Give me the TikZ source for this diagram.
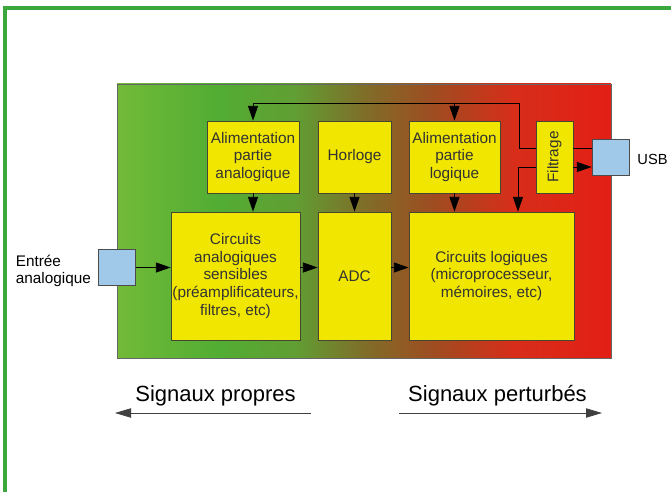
\documentclass[tikz,border=0pt]{standalone}
\usepackage{fontspec}
\usepackage{graphicx}
\setmainfont{Liberation Sans}
\usetikzlibrary{arrows.meta}
\definecolor{boxyellow}{RGB}{240,230,0}
\definecolor{boxline}{RGB}{70,70,50}
\definecolor{portblue}{RGB}{160,200,232}
\definecolor{framegreen}{RGB}{60,168,60}
\pgfdeclarehorizontalshading{greenred}{100bp}{rgb(0bp)=(0.45,0.73,0.22); rgb(25bp)=(0.45,0.73,0.22); rgb(35bp)=(0.32,0.68,0.20); rgb(43bp)=(0.38,0.62,0.20); rgb(50bp)=(0.50,0.43,0.16); rgb(57bp)=(0.62,0.30,0.13); rgb(65bp)=(0.84,0.18,0.10); rgb(75bp)=(0.89,0.12,0.08); rgb(100bp)=(0.89,0.12,0.08)}
\tikzset{
  bloc/.style={draw=boxline, fill=boxyellow, text=black!80, align=center, inner sep=1pt, font=\fontsize{11.5}{13.3}\selectfont},
  port/.style={draw=black!70, fill=portblue, minimum width=27.75pt, minimum height=27pt},
  fleche/.style={-{Triangle[length=11pt,width=7.5pt]}},
  legende/.style={font=\fontsize{16.5}{18}\selectfont},
}
\begin{document}
\begin{tikzpicture}[x=0.75pt, y=-0.75pt, line width=0.6pt]
  \useasboundingbox (0,0) rectangle (671,492);
  \draw[framegreen, line width=2.8pt] (5,492) -- (5,8) -- (671,8);
  \shade[shading=greenred, draw=black!60] (117,84) rectangle (611,358);
  % blocs du haut
  \node[bloc, minimum width=69pt, minimum height=54pt] (alimA) at (253,157) {Alimentation\\partie\\analogique};
  \node[bloc, minimum width=54.75pt, minimum height=54pt] (horloge) at (354.5,157) {Horloge};
  \node[bloc, minimum width=68.25pt, minimum height=54pt] (alimL) at (454.5,157) {Alimentation\\partie\\logique};
  \node[bloc, minimum width=27.75pt, minimum height=54pt] (filtre) at (554.5,157) {\rotatebox{90}{Filtrage}};
  % blocs du bas
  \node[bloc, minimum width=96.75pt, minimum height=96pt] (circA) at (235.5,276) {Circuits\\analogiques\\sensibles\\(préamplificateurs,\\filtres, etc)};
  \node[bloc, minimum width=54.75pt, minimum height=96pt] (adc) at (354.5,276) {ADC};
  \node[bloc, minimum width=123.75pt, minimum height=96pt] (circL) at (491.5,276) {Circuits logiques\\(microprocesseur,\\mémoires, etc)};
  % connecteurs
  \node[port] (entree) at (117,267.5) {};
  \node[port] (usb) at (610.5,157) {};
  \node[anchor=west, align=left, font=\fontsize{11.5}{13.3}\selectfont] (entreeTxt) at (11,271) {Entrée\\analogique};
  \node[font=\fontsize{11}{13}\selectfont] (usbTxt) at (652.5,159) {USB};
  % liaisons
  \coordinate (hautG) at (253,103);
  \coordinate (hautD) at (519,103);
  \coordinate (filtH) at (519,148);
  \coordinate (filtB) at (518,167);
  \draw[fleche] (entree) -- (circA.west|-entree);
  \draw[fleche] (circA.east|-entree) -- (adc.west|-entree);
  \draw[fleche] (adc.east|-entree) -- (circL.west|-entree);
  \draw[fleche] (alimA) -- (alimA|-circA.north);
  \draw[fleche] (horloge) -- (adc);
  \draw[fleche] (alimL) -- (alimL|-circL.north);
  \draw (usb.west|-filtH) -- (filtre.east|-filtH);
  \draw[fleche] (filtre.west|-filtH) -- (filtH) -- (hautD) -- (hautG) -- (alimA);
  \draw[fleche] (alimL|-hautG) -- (alimL);
  \draw[fleche] (filtre.west|-filtB) -- (filtB) -- (filtB|-circL.north);
  \draw[fleche] (filtre.east|-filtB) -- (usb.west|-filtB);
  % legende
  \node[legende] (propres) at (215.5,396) {Signaux propres};
  \node[legende] (perturbes) at (497.5,396) {Signaux perturbés};
  \coordinate (propG) at (115,413);
  \coordinate (propD) at (311,413);
  \coordinate (pertG) at (399,413);
  \coordinate (pertD) at (602,413);
  \draw[black!75, -{Triangle[length=12pt,width=7pt]}] (propD) -- (propG);
  \draw[black!75, -{Triangle[length=12pt,width=7pt]}] (pertG) -- (pertD);
\end{tikzpicture}
\end{document}
